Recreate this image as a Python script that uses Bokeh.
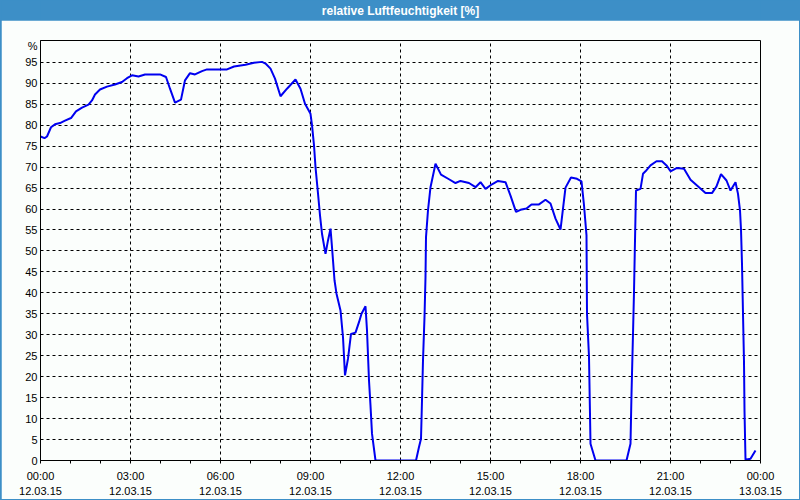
from bokeh.plotting import figure
from bokeh.models import FixedTicker, LinearAxis, Label, Range1d
from bokeh.layouts import column
from bokeh.embed import file_html
from bokeh.resources import INLINE

# minutes since 12.03.15 00:00
MINUTES = [0, 8, 13, 21, 29, 39, 49, 61, 71, 83, 96, 103, 109, 119, 133, 149, 163, 173, 183, 196,
           209, 239, 251, 259, 269, 281, 289, 299, 309, 323, 333, 373, 387, 410, 427, 443, 450, 460,
           469, 480, 493, 510, 520, 529, 540, 543, 547, 550, 555, 559, 563, 570, 575, 580, 583, 588,
           592, 600, 605, 609, 615, 621, 630, 637, 642, 650, 653, 657, 660, 663, 670, 751, 757, 761,
           763, 765, 768, 770, 771, 775, 780, 785, 790, 801, 817, 830, 840, 857, 870, 880, 890, 903,
           915, 930, 940, 951, 960, 972, 982, 997, 1010, 1020, 1030, 1040, 1050, 1061, 1073, 1082,
           1087, 1092, 1093, 1097, 1100, 1110, 1172, 1180, 1182, 1185, 1187, 1189, 1191, 1200, 1205,
           1210, 1220, 1232, 1243, 1252, 1260, 1273, 1287, 1300, 1317, 1330, 1343, 1352, 1361, 1372,
           1380, 1390, 1395, 1399, 1401, 1403, 1405, 1407, 1408, 1410, 1420, 1430]
RH = [77.3, 76.9, 77.3, 79.5, 80.2, 80.5, 81.1, 81.7, 83.3, 84.2, 84.9, 85.9, 87.3, 88.5, 89.2, 89.7,
      90.3, 91.2, 91.9, 91.6, 92.1, 92.1, 91.5, 88.7, 85.4, 86.1, 90.7, 92.4, 92.1, 92.9, 93.3, 93.3,
      94.0, 94.4, 94.9, 95.1, 94.7, 93.5, 91.1, 86.9, 88.7, 90.9, 88.7, 85.1, 82.7, 80.0, 75.2, 70.0,
      63.7, 58.5, 54.1, 49.3, 52.5, 55.3, 50.9, 43.0, 39.8, 35.8, 29.4, 20.3, 24.3, 30.2, 30.5, 33.0,
      35.0, 36.8, 31.0, 19.1, 13.1, 6.4, 0.0, 0.0, 3.2, 5.2, 14.3, 23.9, 34.2, 43.7, 53.3, 59.7,
      65.2, 68.0, 70.8, 68.2, 67.1, 66.2, 66.7, 66.2, 65.2, 66.4, 64.8, 65.9, 66.7, 66.4, 63.2, 59.3,
      59.8, 60.1, 61.1, 61.1, 62.2, 61.3, 57.7, 55.1, 65.1, 67.5, 67.2, 66.6, 60.9, 53.7, 35.0, 24.7,
      4.0, 0.0, 0.0, 4.0, 15.9, 30.2, 40.2, 52.5, 64.4, 64.8, 68.4, 69.0, 70.4, 71.4, 71.4, 70.4,
      69.0, 69.8, 69.6, 67.0, 65.2, 63.8, 63.8, 65.4, 68.3, 66.8, 64.4, 66.4, 63.6, 59.7, 55.1, 46.9,
      35.0, 23.5, 11.9, 0.2, 0.4, 2.4]

X_TICKS = [0, 180, 360, 540, 720, 900, 1080, 1260, 1440]
X_TIME_LABELS = ["00:00", "03:00", "06:00", "09:00", "12:00", "15:00", "18:00", "21:00", "00:00"]
X_DATE_LABELS = ["12.03.15", "12.03.15", "12.03.15", "12.03.15", "12.03.15",
                 "12.03.15", "12.03.15", "12.03.15", "13.03.15"]
X_MINOR = [60, 120, 240, 300, 420, 480, 600, 660, 780, 840, 960, 1020, 1140, 1200, 1320, 1380]
Y_TICKS = [0, 5, 10, 15, 20, 25, 30, 35, 40, 45, 50, 55, 60, 65, 70, 75, 80, 85, 90, 95]
UNIT_POS = 98.8
TITLE = "relative Luftfeuchtigkeit [%]"
UNIT = "%"

BLUE = "#3d8fc7"
BG = "#fbfefc"
FONT = "Liberation Sans"

# title bar
tb = figure(width=798, height=20, x_range=Range1d(0, 1), y_range=Range1d(0, 1),
            toolbar_location=None, output_backend="svg", min_border=0,
            x_axis_location=None, y_axis_location=None)
tb.grid.visible = False
tb.outline_line_color = None
tb.background_fill_color = BLUE
tb.border_fill_color = BLUE
tb.add_layout(Label(x=0.5, y=0.5, text=TITLE, text_align="center", text_baseline="middle",
                    text_color="white", text_font=FONT, text_font_size="12px",
                    text_font_style="bold"))

p = figure(width=798, height=479, x_range=Range1d(0, 1440), y_range=Range1d(0, 100.2),
           toolbar_location=None, output_backend="svg",
           min_border_left=39, min_border_right=39, min_border_top=20, min_border_bottom=39)
p.background_fill_color = BG
p.border_fill_color = BG
p.outline_line_color = "black"
p.outline_line_alpha = 1
p.outline_line_width = 1

xa = p.xaxis[0]
xa.ticker = FixedTicker(ticks=X_TICKS, minor_ticks=X_MINOR)
xa.major_label_overrides = {t: l for t, l in zip(X_TICKS, X_TIME_LABELS)}
xa.axis_line_color = "black"
xa.major_tick_line_color = "black"
xa.minor_tick_line_color = "black"
xa.major_tick_in = 0
xa.major_tick_out = 3
xa.minor_tick_in = 0
xa.minor_tick_out = 3
xa.major_label_standoff = 6
xa.major_label_text_font = FONT
xa.major_label_text_font_size = "11px"
xa.major_label_text_color = "black"

xa2 = LinearAxis(ticker=FixedTicker(ticks=X_TICKS, minor_ticks=[]))
xa2.major_label_overrides = {t: l for t, l in zip(X_TICKS, X_DATE_LABELS)}
xa2.axis_line_color = None
xa2.major_tick_line_color = None
xa2.minor_tick_line_color = None
xa2.major_tick_in = 0
xa2.major_tick_out = 0
xa2.minor_tick_out = 0
xa2.major_label_standoff = 2
xa2.major_label_text_font = FONT
xa2.major_label_text_font_size = "11px"
xa2.major_label_text_color = "black"
p.add_layout(xa2, "below")

ya = p.yaxis[0]
ya.ticker = FixedTicker(ticks=Y_TICKS + [UNIT_POS], minor_ticks=[])
ya.major_label_overrides = {UNIT_POS: UNIT}
ya.axis_line_color = "black"
ya.major_tick_in = 0
ya.major_tick_out = 0
ya.minor_tick_out = 0
ya.minor_tick_in = 0
ya.major_label_standoff = 3
ya.major_label_text_font = FONT
ya.major_label_text_font_size = "11px"
ya.major_label_text_color = "black"

p.xgrid.ticker = FixedTicker(ticks=X_TICKS)
p.ygrid.ticker = FixedTicker(ticks=Y_TICKS)
for g in (p.xgrid[0], p.ygrid[0]):
    g.grid_line_color = "black"
    g.grid_line_alpha = 1
    g.grid_line_width = 1
    g.grid_line_dash = "3 3"

p.line(MINUTES, RH, line_color="#0000f0", line_width=2)

layout = column(tb, p, spacing=0,
                styles={"border-left": f"1px solid {BLUE}", "border-right": f"1px solid {BLUE}",
                        "border-bottom": f"1px solid {BLUE}", "background-color": BLUE})

open("out.html", "w").write(file_html(layout, INLINE))
